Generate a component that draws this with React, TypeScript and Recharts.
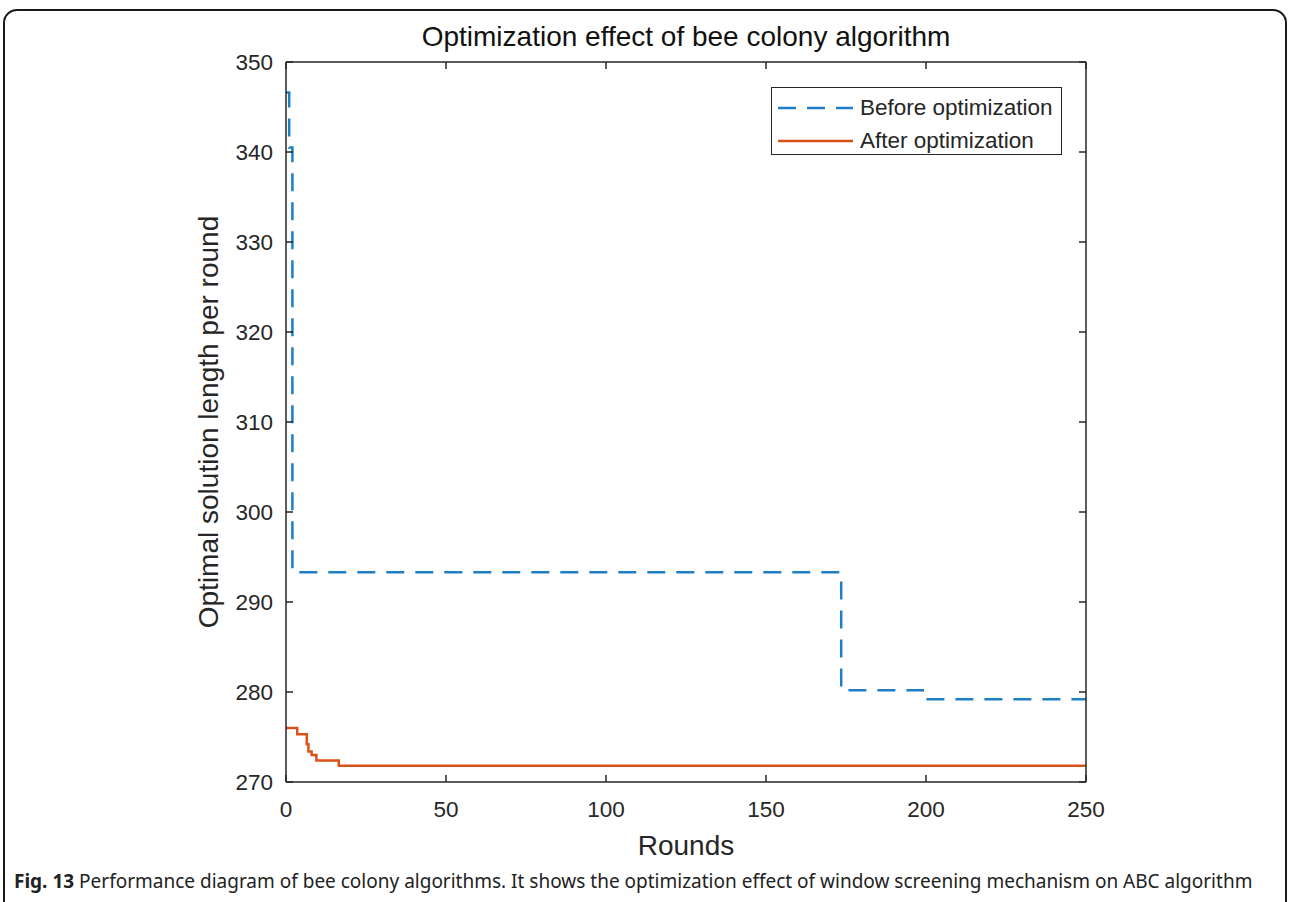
import { LineChart, Line, XAxis, YAxis, Legend, Label } from 'recharts';

// step curves (round -> optimal length)
const beforeRounds = [0, 1, 2, 173.5, 199, 250];
const beforeLength = [346.6, 340.5, 293.3, 280.2, 279.2, 279.2];
const afterRounds = [0, 3.5, 6.5, 7, 8, 9.5, 16.5, 250];
const afterLength = [276.0, 275.3, 274.2, 273.4, 273.0, 272.4, 271.8, 271.8];

const roundTicks = [0, 50, 100, 150, 200, 250];
const lengthTicks = [270, 280, 290, 300, 310, 320, 330, 340, 350];

const seriesNames = ['Before optimization', 'After optimization'];
const seriesColors = ['#1f7fc4', '#d95319'];

const titleText = 'Optimization effect of bee colony algorithm';
const xLabel = 'Rounds';
const yLabel = 'Optimal solution length per round';

const FONT = '"Liberation Sans", Arial, Helvetica, sans-serif';
const AXIS = '#262626';

const beforeData = beforeRounds.map((x, i) => ({ x, v: beforeLength[i] }));
const afterData = afterRounds.map((x, i) => ({ x, v: afterLength[i] }));

// box axes keep their inward tick marks but show no labels
const noLabel = () => <g />;

function LegendBox({ payload }: any) {
  const items = [...(payload || [])].sort(
    (a: any, b: any) => seriesNames.indexOf(a.value) - seriesNames.indexOf(b.value)
  );
  return (
    <div
      style={{
        boxSizing: 'border-box',
        width: 291,
        height: 68,
        border: `1.5px solid ${AXIS}`,
        background: '#fff',
        paddingTop: 3,
        fontFamily: FONT,
        fontSize: 22.5,
        color: AXIS
      }}
    >
      {items.map((it: any) => (
        <div key={it.value} style={{ display: 'flex', alignItems: 'center', height: 33 }}>
          <svg width={82} height={10} style={{ marginLeft: 6 }}>
            <line
              x1={0}
              y1={5}
              x2={75}
              y2={5}
              stroke={it.color}
              strokeWidth={2.5}
              strokeDasharray={it.payload?.strokeDasharray}
            />
          </svg>
          <span style={{ whiteSpace: 'nowrap' }}>{it.value}</span>
        </div>
      ))}
    </div>
  );
}

export default function App() {
  return (
    <div style={{ position: 'fixed', inset: 0, background: '#fff', overflow: 'hidden' }}>
      <div
        style={{
          position: 'absolute',
          left: 3,
          top: 9,
          width: 1280,
          height: 960,
          border: '2px solid #1a1a1a',
          borderRadius: 14
        }}
      />
      <div style={{ position: 'absolute', left: 0, top: 0 }}>
        <LineChart width={1290} height={860} margin={{ top: 61, right: 203, bottom: 0, left: 0 }}>
          <XAxis
            xAxisId="bottom"
            dataKey="x"
            type="number"
            domain={[0, 250]}
            ticks={roundTicks}
            allowDataOverflow
            height={78}
            tickSize={-7}
            tickMargin={26}
            stroke={AXIS}
            strokeWidth={1.5}
            tick={{ fill: AXIS, fontSize: 22.5, fontFamily: FONT }}
          >
            <Label
              content={({ viewBox }: any) => (
                <text
                  x={viewBox.x + viewBox.width / 2}
                  y={viewBox.y + 73}
                  textAnchor="middle"
                  fill={AXIS}
                  fontSize={28}
                  fontFamily={FONT}
                >
                  {xLabel}
                </text>
              )}
            />
          </XAxis>
          <XAxis
            xAxisId="top"
            dataKey="x"
            type="number"
            orientation="top"
            domain={[0, 250]}
            ticks={roundTicks}
            allowDataOverflow
            height={1}
            tickSize={-7}
            stroke={AXIS}
            strokeWidth={1.5}
            tick={noLabel}
          />
          <YAxis
            yAxisId="left"
            dataKey="v"
            type="number"
            domain={[270, 350]}
            ticks={lengthTicks}
            allowDataOverflow
            width={286}
            tickSize={-7}
            tickMargin={20}
            stroke={AXIS}
            strokeWidth={1.5}
            tick={{ fill: AXIS, fontSize: 22.5, fontFamily: FONT }}
          >
            <Label
              content={({ viewBox }: any) => {
                const cy = viewBox.y + viewBox.height / 2;
                return (
                  <text
                    x={218}
                    y={cy}
                    transform={`rotate(-90, 218, ${cy})`}
                    textAnchor="middle"
                    fill={AXIS}
                    fontSize={28}
                    fontFamily={FONT}
                  >
                    {yLabel}
                  </text>
                );
              }}
            />
            <Label
              content={() => (
                <text x={686} y={46} textAnchor="middle" fill="#111" fontSize={28} fontFamily={FONT}>
                  {titleText}
                </text>
              )}
            />
          </YAxis>
          <YAxis
            yAxisId="right"
            dataKey="v"
            type="number"
            orientation="right"
            domain={[270, 350]}
            ticks={lengthTicks}
            allowDataOverflow
            width={1}
            tickSize={-7}
            stroke={AXIS}
            strokeWidth={1.5}
            tick={noLabel}
          />
          <Legend
            layout="vertical"
            align="center"
            verticalAlign="middle"
            content={<LegendBox />}
            wrapperStyle={{ left: 771, top: 87, width: 291, height: 68 }}
          />
          <Line
            xAxisId="bottom"
            yAxisId="left"
            data={beforeData}
            dataKey="v"
            name={seriesNames[0]}
            type="stepAfter"
            stroke={seriesColors[0]}
            strokeWidth={2.5}
            strokeDasharray="18 11"
            dot={false}
            activeDot={false}
            isAnimationActive={false}
          />
          <Line
            xAxisId="bottom"
            yAxisId="left"
            data={afterData}
            dataKey="v"
            name={seriesNames[1]}
            type="stepAfter"
            stroke={seriesColors[1]}
            strokeWidth={2.5}
            dot={false}
            activeDot={false}
            isAnimationActive={false}
          />
        </LineChart>
      </div>
      <div
        style={{
          position: 'absolute',
          left: 14,
          top: 869,
          lineHeight: '24px',
          fontSize: 19,
          fontFamily: '"Noto Sans", "Open Sans", sans-serif',
          color: '#222',
          whiteSpace: 'nowrap'
        }}
      >
        <b>Fig. 13</b> Performance diagram of bee colony algorithms. It shows the optimization effect of window screening mechanism on ABC algorithm
      </div>
    </div>
  );
}
